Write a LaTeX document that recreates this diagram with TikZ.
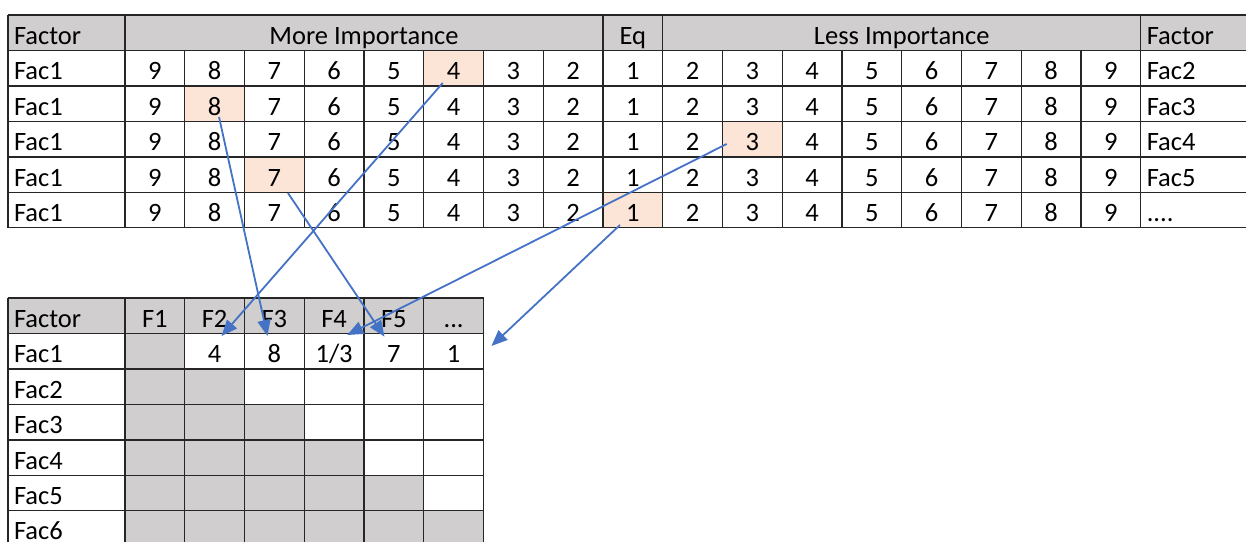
\documentclass[tikz,border=0pt]{standalone}
\usepackage{fontspec}
\setmainfont{Carlito}
\usetikzlibrary{arrows.meta,calc,backgrounds}
\definecolor{hdrgray}{HTML}{D0CECE}
\definecolor{peach}{HTML}{FCE4D6}
\definecolor{arrowblue}{HTML}{4472C4}
\begin{document}
\begin{tikzpicture}[x=1pt,y=-1pt,
  cell/.style={rectangle,inner sep=0pt,outer sep=0pt,minimum width=59.75pt,
    minimum height=35.45pt,text height=23pt,text depth=0pt,
    font=\fontsize{26.5}{30}\selectfont},
  factcell/.style={cell,minimum width=117pt,text width=105pt,align=left},
  grid/.style={draw=black!85,line width=1.4pt},
  conn/.style={draw=arrowblue,line width=1.8pt,-{Triangle[length=16pt,width=13pt]}}]
\clip (0,0) rectangle (1246,541);
% ---------- top table ----------
\node[factcell] (TH-0) at (66.5,32.725) {Factor};
\node[cell,minimum width=478pt] (TH-more) at (364,32.725) {More Importance};
\node[cell] (TH-eq) at (632.875,32.725) {Eq};
\node[cell,minimum width=478pt] (TH-less) at (901.75,32.725) {Less Importance};
\node[factcell] (TH-r) at (1199.25,32.725) {Factor};
\foreach \r in {1,...,5} {
  \pgfmathsetmacro\yc{15+35.45*\r+17.725}
  \node[factcell] (T-\r-0) at (66.5,\yc) {Fac1};
  \foreach \c in {1,...,17} {
    \pgfmathtruncatemacro\v{\c<9 ? 10-\c : (\c==9 ? 1 : \c-8)}
    \pgfmathsetmacro\xc{125+59.75*(\c-1)+29.875}
    \node[cell] (T-\r-\c) at (\xc,\yc) {\v};
  }
}
\node[factcell] (T-1-18) at (1199.25,68.175) {Fac2};
\node[factcell] (T-2-18) at (1199.25,103.625) {Fac3};
\node[factcell] (T-3-18) at (1199.25,139.075) {Fac4};
\node[factcell] (T-4-18) at (1199.25,174.525) {Fac5};
\node[factcell] (T-5-18) at (1199.25,209.975) {....};
% ---------- bottom table ----------
\node[factcell] (B-0-0) at (66.5,315.725) {Factor};
\foreach \c/\t in {1/F1,2/F2,3/F3,4/F4,5/F5} {
  \pgfmathsetmacro\xc{125+59.75*(\c-1)+29.875}
  \node[cell] (B-0-\c) at (\xc,315.725) {\t};
}
\node[cell] (B-0-6) at (453.625,315.725) {...};
\foreach \r in {1,...,6} {
  \pgfmathsetmacro\yc{298+35.45*\r+17.725}
  \node[factcell] (B-\r-0) at (66.5,\yc) {Fac\r};
}
\foreach \c/\t in {2/4,3/8,4/1\slash 3,5/7,6/1} {
  \pgfmathsetmacro\xc{125+59.75*(\c-1)+29.875}
  \node[cell] (B-1-\c) at (\xc,351.175) {\t};
}
% ---------- fills ----------
\begin{scope}[on background layer]
  \fill[hdrgray] (8,15) rectangle (1250,50.45);
  \foreach \n in {T-1-6,T-2-2,T-3-11,T-4-3,T-5-9}
    \fill[peach] (\n.south west) rectangle (\n.north east);
  \fill[hdrgray] (8,298) rectangle (483.5,333.45);
  \foreach \r in {1,...,6} {
    \pgfmathsetmacro\ya{298+35.45*\r}
    \pgfmathsetmacro\xb{125+59.75*\r}
    \fill[hdrgray] (125,\ya) rectangle (\xb,\ya+35.45);
  }
\end{scope}
% ---------- grid lines ----------
\foreach \k in {0,...,6} \draw[grid] (8,15+35.45*\k) -- (1250,15+35.45*\k);
\foreach \xx in {8,125,603,662.75,1140.75} \draw[grid] (\xx,15) -- (\xx,227.7);
\foreach \j in {1,...,7,10,11,...,16} \draw[grid] (125+59.75*\j,50.45) -- (125+59.75*\j,227.7);
\foreach \k in {0,...,7} \draw[grid] (8,298+35.45*\k) -- (483.5,298+35.45*\k);
\foreach \j in {0,...,6} \draw[grid] (125+59.75*\j,298) -- (125+59.75*\j,546);
\draw[grid] (8,298) -- (8,546);
% ---------- connectors ----------
\draw[conn] ($(T-1-6.center)+(-10.9,14.8)$) -- ($(B-0-2.center)+(6.9,20.3)$);
\draw[conn] ($(T-2-2.center)+(4.4,13.4)$) -- ($(B-0-3.center)+(-6.9,20.3)$);
\draw[conn] ($(T-4-3.center)+(13.6,18.5)$) -- ($(B-0-5.center)+(-9.4,21)$);
\draw[conn] ($(T-3-11.center)+(-25.7,4.9)$) -- ($(B-0-4.center)+(13.1,19.3)$);
\draw[conn] ($(T-5-9.center)+(-12.9,15)$) -- ($(B-1-6.center)+(37.8,-5.2)$);
\end{tikzpicture}
\end{document}
